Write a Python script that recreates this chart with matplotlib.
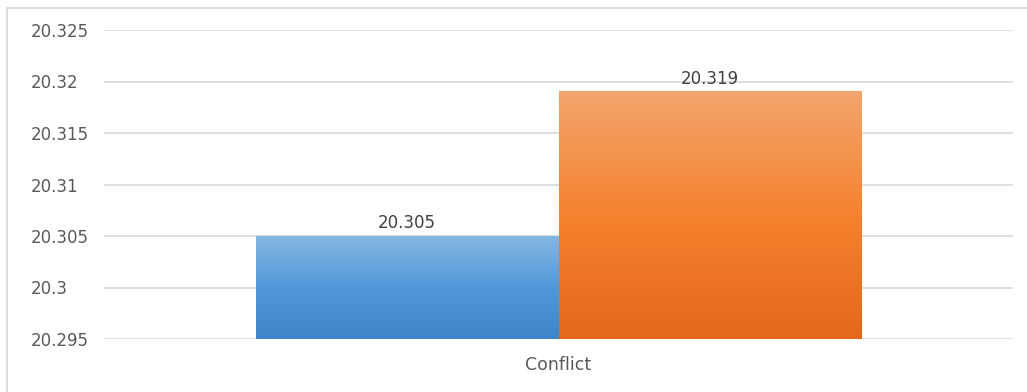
import numpy as np
import matplotlib
matplotlib.use("Agg")
import matplotlib.pyplot as plt
from matplotlib.lines import Line2D
from matplotlib.colors import LinearSegmentedColormap

categories = ["Conflict"]
series_values = [20.305, 20.319]
yticks = [20.295, 20.3, 20.305, 20.31, 20.315, 20.32, 20.325]
ytick_labels = ["20.295", "20.3", "20.305", "20.31", "20.315", "20.32", "20.325"]
value_labels = ["20.305", "20.319"]

# bottom, middle, top colours of each bar's gradient
gradients = [("#3e84c6", "#5198d9", "#86b6e3"), ("#e4681a", "#f5822f", "#f2a56e")]

plt.rcParams['font.family'] = ['DejaVu Sans']

fig = plt.figure(figsize=(10.27, 3.92), dpi=100)
W, H = 1027, 392
ax = fig.add_axes([104 / W, 1 - 339 / H, (1013 - 104) / W, (339 - 30) / H])

ymin, ymax = yticks[0], yticks[-1]
ax.set_ylim(ymin, ymax)
ax.set_xlim(-0.5, 0.5)

n = len(series_values)
width = 1.0 / 3
offsets = (np.arange(n) - (n - 1) / 2) * width
grad = np.linspace(0, 1, 256).reshape(-1, 1)
for i, (val, lab) in enumerate(zip(series_values, value_labels)):
    bars = ax.bar(offsets[i], val - ymin, bottom=ymin, width=width, color="none", zorder=2)
    p = bars[0]
    b, m, t = gradients[i]
    cmap = LinearSegmentedColormap.from_list(f"g{i}", [(0, b), (0.5, m), (1, t)])
    ax.imshow(grad, cmap=cmap, origin="lower", aspect="auto",
              extent=(p.get_x(), p.get_x() + p.get_width(), ymin, val), zorder=2)
    ax.annotate(lab, (offsets[i], val), xytext=(0, 3), textcoords="offset points",
                ha="center", va="bottom", fontsize=12, color="#404040", zorder=3)

ax.set_xlim(-0.5, 0.5)
ax.set_ylim(ymin, ymax)
ax.set_yticks(yticks)
ax.set_yticklabels(ytick_labels)
for tl in ax.get_yticklabels():
    tl.set_ha("left")
ax.tick_params(axis="y", length=0, pad=52.5, labelsize=12, labelcolor="#595959")
ax.set_xticks([0])
ax.set_xticklabels(categories)
ax.tick_params(axis="x", length=0, pad=12, labelsize=12.5, labelcolor="#595959")
ax.grid(axis="y", color="#d9d9d9", linewidth=1.2, zorder=0)
ax.set_axisbelow(True)
for s in ax.spines.values():
    s.set_visible(False)

fig.add_artist(Line2D([7 / W, 1], [1 - 8 / H, 1 - 8 / H], color="#d9d9d9", linewidth=1.2))
fig.add_artist(Line2D([7 / W, 7 / W], [0, 1 - 8 / H], color="#d9d9d9", linewidth=1.2))

fig.savefig("out.png", dpi=100)
